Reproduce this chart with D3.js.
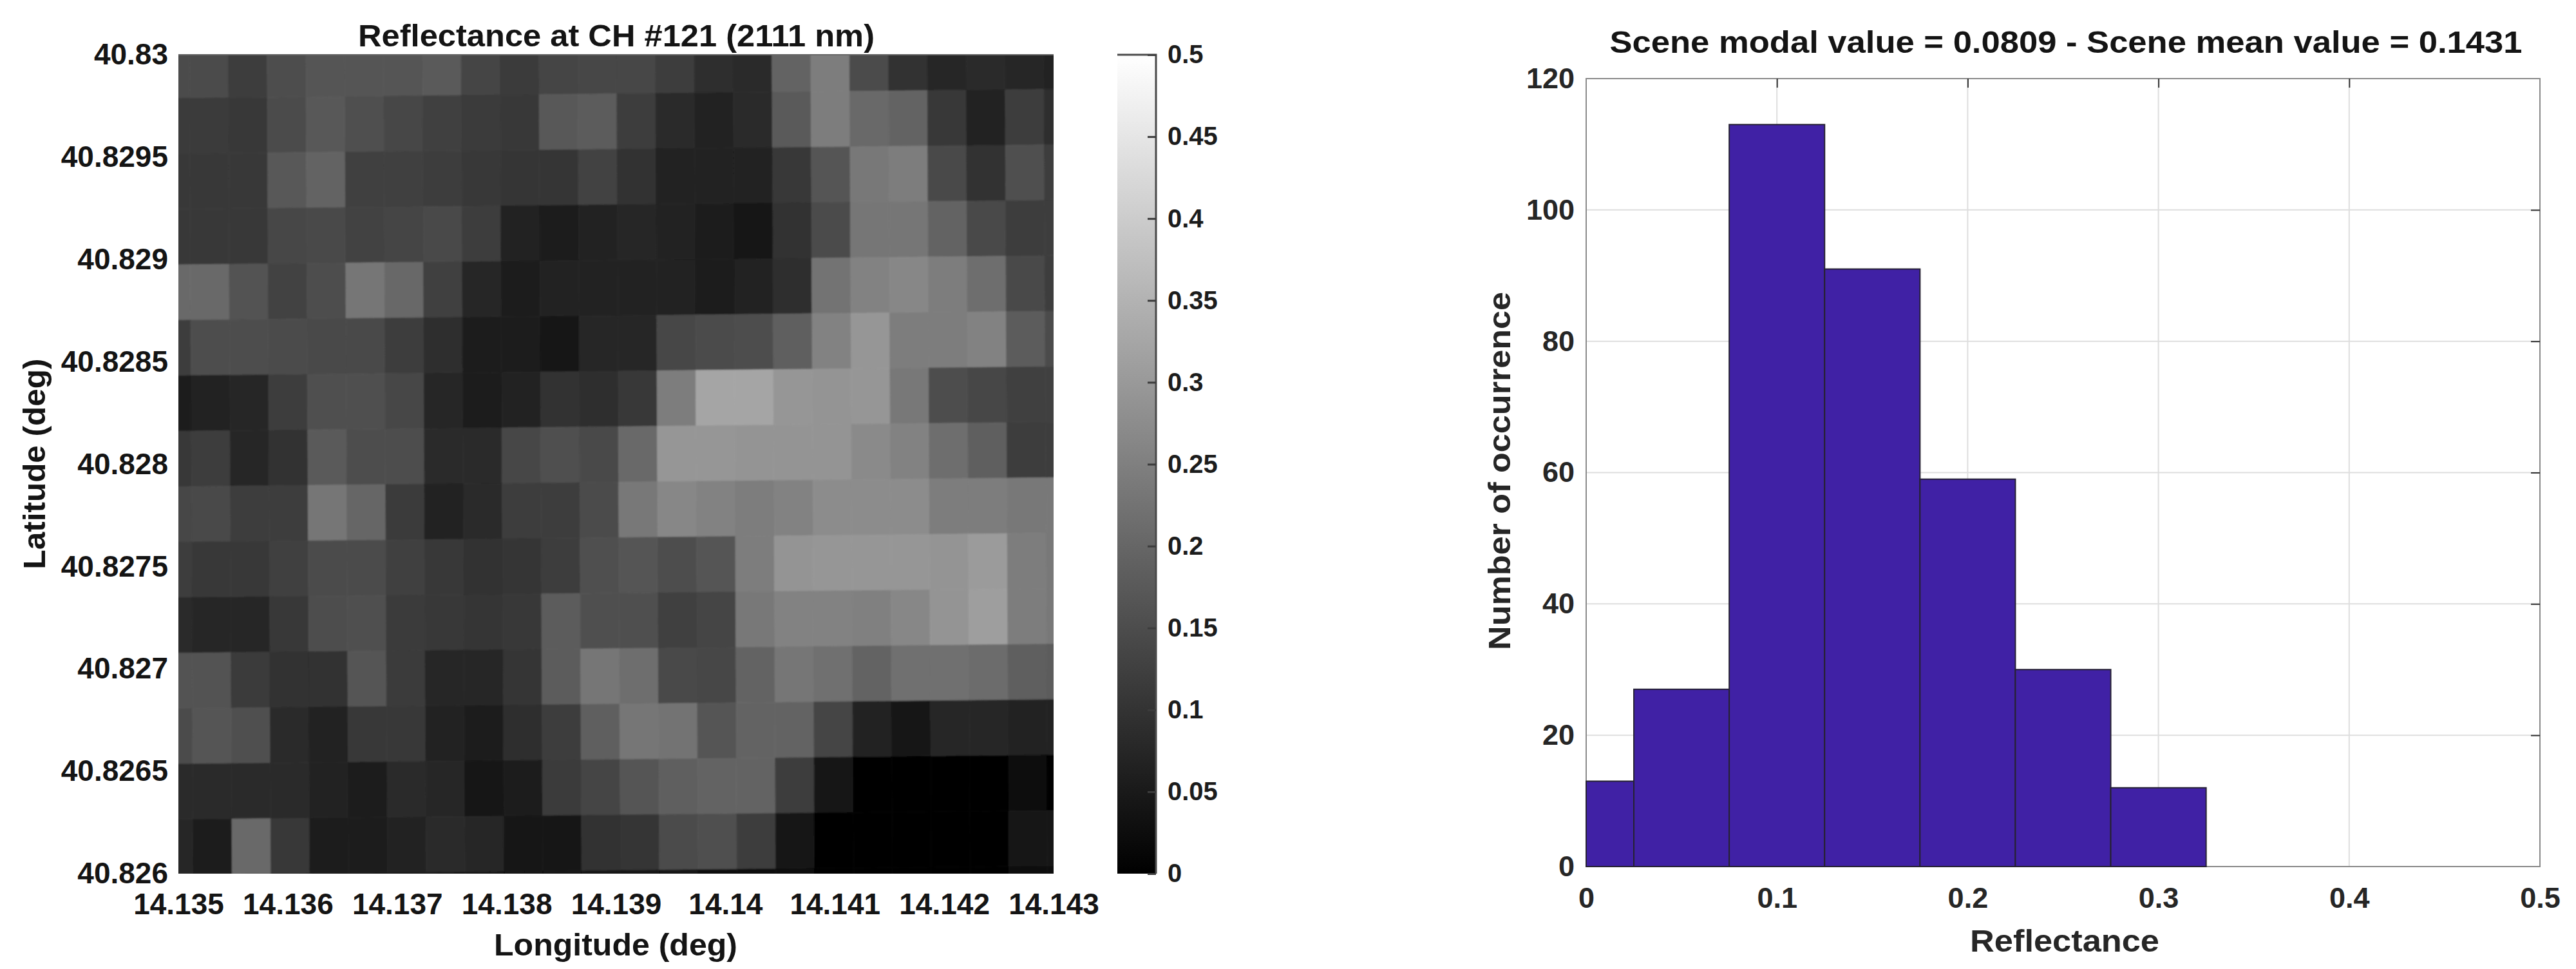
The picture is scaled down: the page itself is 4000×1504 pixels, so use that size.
<!DOCTYPE html>
<html>
<head>
<meta charset="utf-8">
<script src="https://cdn.jsdelivr.net/npm/d3@7"></script>
<style>
  html, body { margin: 0; padding: 0; background: #ffffff; }
  text { font-family: "Liberation Sans", Arial, sans-serif; font-weight: bold; }
</style>
</head>
<body>
<svg id="chart" width="4000" height="1504"></svg>
<script>
// reflectance x 1000, north to south
const reflectance = [
  [147,147,122,153,167,167,167,176,133,114,133,137,137,118,88,82,196,245,147,98,78,82,78,69],
  [114,114,110,149,172,157,137,125,114,110,172,180,118,82,71,82,176,245,206,196,108,69,118,88],
  [110,110,110,172,196,125,125,122,110,106,106,129,98,63,67,63,108,167,235,245,141,94,157,118],
  [110,110,108,137,141,129,133,141,118,63,59,65,75,67,59,39,94,147,231,231,196,141,118,118],
  [206,206,161,129,153,231,204,125,75,59,67,69,71,63,55,63,88,225,255,265,245,216,141,122],
  [118,153,153,149,145,141,122,90,59,55,43,75,75,137,149,153,186,255,294,245,245,255,180,147],
  [59,63,78,122,157,157,137,78,55,71,98,88,108,245,323,323,294,290,294,235,153,137,127,127],
  [108,122,78,98,176,153,153,82,82,137,157,141,206,294,294,290,290,290,270,255,216,186,122,118],
  [137,141,122,118,231,200,114,63,82,122,122,147,235,265,255,245,255,275,275,275,245,245,235,235],
  [122,108,108,125,149,149,125,108,98,102,122,157,167,153,167,245,290,294,294,294,290,304,245,235],
  [82,75,78,108,153,157,114,108,102,108,180,157,157,127,133,235,255,255,251,265,290,310,245,235],
  [161,161,114,94,94,165,114,75,75,102,180,231,216,141,137,196,231,220,196,220,220,212,186,180],
  [147,167,157,82,63,110,110,71,55,90,118,186,231,225,167,196,196,133,63,43,75,75,69,69],
  [86,86,86,82,71,55,82,78,35,51,114,133,167,186,196,196,118,43,12,6,6,6,16,10],
  [75,59,206,108,59,59,71,86,78,47,47,98,102,147,157,118,47,6,4,4,4,4,43,49],
  [59,50,45,45,40,40,40,40,38,35,35,40,40,35,30,25,15,4,4,4,4,4,20,20]
];

const lonTicks = [14.135, 14.136, 14.137, 14.138, 14.139, 14.14, 14.141, 14.142, 14.143];
const latTicks = [40.826, 40.8265, 40.827, 40.8275, 40.828, 40.8285, 40.829, 40.8295, 40.83];
const barTicks = [0, 0.05, 0.1, 0.15, 0.2, 0.25, 0.3, 0.35, 0.4, 0.45, 0.5];

const binEdges = [0, 0.025, 0.075, 0.125, 0.175, 0.225, 0.275, 0.325];
const binCounts = [13, 27, 113, 91, 59, 30, 12];
const histXTicks = [0, 0.1, 0.2, 0.3, 0.4, 0.5];
const histYTicks = [0, 20, 40, 60, 80, 100, 120];

const svg = d3.select("#chart");
const defs = svg.append("defs");
const fmt = d => String(+d.toFixed(4));

// x,y is the baseline point of the text
function fn_text(parent, str, x, y, size, length, rotate) {
  let t = parent.append("text")
    .text(str)
    .attr("text-anchor", "middle")
    .attr("textLength", length)
    .attr("lengthAdjust", "spacingAndGlyphs")
    .style("font-size", size + "px")
    .style("fill", "#141414");
  if (rotate) t.attr("transform", "translate(" + x + "," + y + ") rotate(" + rotate + ")");
  else t.attr("x", x).attr("y", y);
  return t;
}

// ---- reflectance map ----
const xLon = d3.scaleLinear().domain([14.135, 14.143]).range([277, 1636]);
const yLat = d3.scaleLinear().domain([40.83, 40.826]).range([85, 1356]);
const gray = d3.scaleLinear().domain([0, 500]).range(["#000000", "#ffffff"]).clamp(true);

// the scene mesh is slightly rotated against lon/lat, like a pcolor of the raw pixels
const lonStart = 14.1351, lonStep = 0.000355, lonShear = 0.0000024;
const latStart = 40.830057, latStep = 0.000271, latShear = 0.00000196;
const cornerLon = (c, r) => lonStart + (c - 1) * lonStep + r * lonShear;
const cornerLat = (c, r) => latStart - r * latStep + c * latShear;
const corner = (c, r) => xLon(cornerLon(c, r)) + "," + yLat(cornerLat(c, r));

defs.append("clipPath").attr("id", "map_clip")
  .append("rect")
  .attr("x", xLon.range()[0]).attr("y", yLat.range()[0])
  .attr("width", xLon.range()[1] - xLon.range()[0])
  .attr("height", yLat.range()[1] - yLat.range()[0]);
defs.append("filter").attr("id", "soft")
  .attr("x", 0).attr("y", 0).attr("width", 1).attr("height", 1)
  .append("feGaussianBlur").attr("stdDeviation", 1.2);

let g_map = svg.append("g").attr("clip-path", "url(#map_clip)")
  .append("g").attr("filter", "url(#soft)");
reflectance.forEach((row, r) => {
  row.forEach((v, c) => {
    g_map.append("polygon")
      .attr("points", [corner(c, r), corner(c + 1, r), corner(c + 1, r + 1), corner(c, r + 1)].join(" "))
      .attr("fill", gray(v))
      .attr("stroke", gray(v))
      .attr("stroke-width", 0.8);
  });
});

svg.append("line")
  .attr("x1", xLon.range()[0]).attr("x2", xLon.range()[1])
  .attr("y1", yLat.range()[0]).attr("y2", yLat.range()[0])
  .attr("stroke", "#666666").attr("stroke-width", 2);

let g_mapX = svg.append("g")
  .attr("transform", "translate(0," + yLat.range()[1] + ")")
  .call(d3.axisBottom(xLon).tickValues(lonTicks).tickFormat(fmt).tickSize(0).tickPadding(30));
let g_mapY = svg.append("g")
  .attr("transform", "translate(" + xLon.range()[0] + ",0)")
  .call(d3.axisLeft(yLat).tickValues(latTicks).tickFormat(fmt).tickSize(0).tickPadding(16));
[g_mapX, g_mapY].forEach(g => {
  g.select(".domain").remove();
  g.selectAll("text").style("font-size", "46px").style("fill", "#141414");
});

fn_text(svg, "Reflectance at CH #121 (2111 nm)", 957, 72, 49, 802);
fn_text(svg, "Longitude (deg)", 956, 1483, 49, 378);
fn_text(svg, "Latitude (deg)", 70, 720, 49, 327, -90);

// ---- colorbar ----
const yBar = d3.scaleLinear().domain([0, 0.5]).range([1356, 85]);
let grad = defs.append("linearGradient")
  .attr("id", "bar_grad").attr("x1", 0).attr("y1", 1).attr("x2", 0).attr("y2", 0);
grad.append("stop").attr("offset", 0).attr("stop-color", gray(0));
grad.append("stop").attr("offset", 1).attr("stop-color", gray(500));

svg.append("rect")
  .attr("x", 1735).attr("y", yBar(0.5))
  .attr("width", 60).attr("height", yBar(0) - yBar(0.5))
  .attr("fill", "url(#bar_grad)");
svg.append("path")
  .attr("d", "M1735," + yBar(0.5) + "H1795V" + yBar(0))
  .attr("fill", "none").attr("stroke", "#4a4a4a").attr("stroke-width", 3);

let g_bar = svg.append("g")
  .attr("transform", "translate(1795,0)")
  .call(d3.axisRight(yBar).tickValues(barTicks).tickFormat(fmt).tickSize(-13).tickPadding(18));
g_bar.select(".domain").remove();
g_bar.selectAll("line").attr("stroke", "#3c3c3c").attr("stroke-width", 3);
g_bar.selectAll("text").style("font-size", "40px").style("fill", "#1c1c1c");

// ---- histogram ----
const xHist = d3.scaleLinear().domain([0, 0.5]).range([2463, 3944]);
const yHist = d3.scaleLinear().domain([0, 120]).range([1345, 122]);

let g_grid = svg.append("g");
histXTicks.forEach(t => {
  g_grid.append("line")
    .attr("x1", xHist(t)).attr("x2", xHist(t)).attr("y1", yHist(0)).attr("y2", yHist(120))
    .attr("stroke", "#dedede").attr("stroke-width", 2);
});
histYTicks.forEach(t => {
  g_grid.append("line")
    .attr("x1", xHist(0)).attr("x2", xHist(0.5)).attr("y1", yHist(t)).attr("y2", yHist(t))
    .attr("stroke", "#dedede").attr("stroke-width", 2);
});

svg.append("rect")
  .attr("x", xHist(0)).attr("y", yHist(120))
  .attr("width", xHist(0.5) - xHist(0)).attr("height", yHist(0) - yHist(120))
  .attr("fill", "none").attr("stroke", "#8a8a8a").attr("stroke-width", 2);

svg.append("g").selectAll("rect")
  .data(binCounts)
  .join("rect")
  .attr("x", (d, i) => xHist(binEdges[i]))
  .attr("y", d => yHist(d))
  .attr("width", (d, i) => xHist(binEdges[i + 1]) - xHist(binEdges[i]))
  .attr("height", d => yHist(0) - yHist(d))
  .attr("fill", "#4021a5")
  .attr("stroke", "#262233")
  .attr("stroke-width", 2);

let g_histX = svg.append("g")
  .attr("transform", "translate(0," + yHist(0) + ")")
  .call(d3.axisBottom(xHist).tickValues(histXTicks).tickFormat(fmt).tickSize(0).tickPadding(32));
let g_histY = svg.append("g")
  .attr("transform", "translate(" + xHist(0) + ",0)")
  .call(d3.axisLeft(yHist).tickValues(histYTicks).tickSize(0).tickPadding(18));
// short inward ticks on the top and right edges only
let g_histTop = svg.append("g")
  .attr("transform", "translate(0," + yHist(120) + ")")
  .call(d3.axisTop(xHist).tickValues(histXTicks.slice(1, -1)).tickSize(-14).tickFormat(""));
let g_histRight = svg.append("g")
  .attr("transform", "translate(" + xHist(0.5) + ",0)")
  .call(d3.axisRight(yHist).tickValues(histYTicks.slice(1, -1)).tickSize(-14).tickFormat(""));

[g_histX, g_histY, g_histTop, g_histRight].forEach(g => {
  g.select(".domain").remove();
  g.selectAll("line").attr("stroke", "#333333").attr("stroke-width", 2);
  g.selectAll("text").style("font-size", "45px").style("fill", "#262626");
});

fn_text(svg, "Scene modal value = 0.0809 - Scene mean value = 0.1431", 3208, 82, 48, 1417);
fn_text(svg, "Reflectance", 3206, 1477, 49, 294).style("fill", "#262626");
fn_text(svg, "Number of occurrence", 2345, 731, 49, 556, -90).style("fill", "#262626");
</script>
</body>
</html>
